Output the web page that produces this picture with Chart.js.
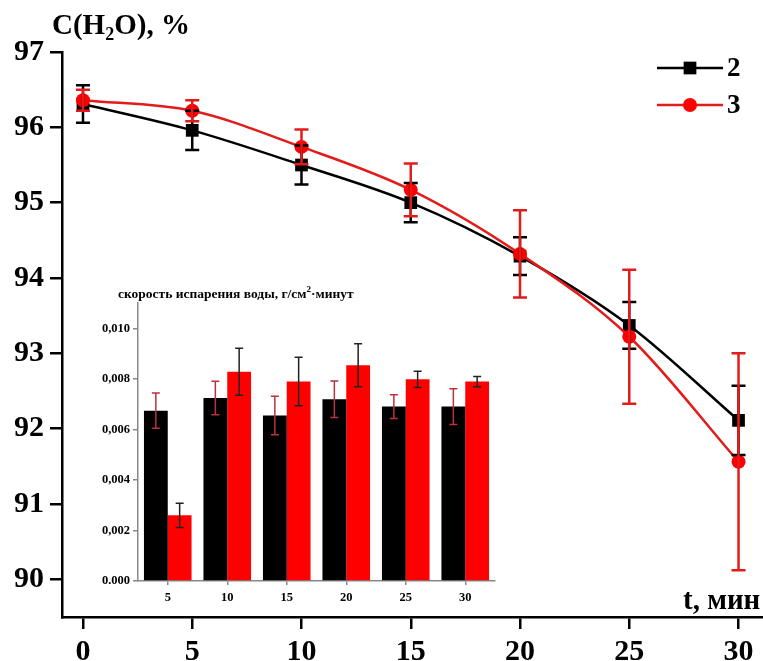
<!DOCTYPE html>
<html>
<head>
<meta charset="utf-8">
<script src="https://cdn.jsdelivr.net/npm/chart.js@4.4.1/dist/chart.umd.min.js"></script>
<style>
  body { margin: 0; background: #fff; }
  #wrap { position: relative; width: 763px; height: 661px; overflow: hidden; }
  .lbl { position: absolute; font-family: "Liberation Serif", "Times New Roman", serif; font-weight: bold; color: #000; white-space: nowrap; line-height: 1; }
  #inset { position: absolute; left: 93px; top: 280px; width: 407px; height: 328px; background: #fff; }
</style>
</head>
<body>
<div id="wrap">
  <canvas id="main" width="763" height="661"></canvas>
  <div id="inset"><canvas id="rate" width="407" height="328"></canvas></div>
  <div class="lbl" style="left:52px;top:10px;font-size:29px;">C(H<sub style="font-size:18px;vertical-align:-6px;">2</sub>O), %</div>
  <div class="lbl" style="left:683px;top:585px;font-size:29px;">t, мин</div>
  <div class="lbl" style="left:118px;top:285px;font-size:13.5px;">скорость испарения воды, г/см<sup style="font-size:9px;">2</sup>·минут</div>
</div>
<script>
// основной график: концентрация воды от времени
const times = [0, 5, 10, 15, 20, 25, 30];
const conc2 = [96.31, 95.96, 95.50, 95.00, 94.29, 93.37, 92.11];
const err2 = [0.25, 0.26, 0.26, 0.26, 0.25, 0.31, 0.46];
const conc3 = [96.36, 96.22, 95.74, 95.17, 94.32, 93.22, 91.56];
const err3 = [0.14, 0.14, 0.23, 0.35, 0.58, 0.89, 1.44];
const xTicks = [0, 5, 10, 15, 20, 25, 30];
const yTicks = [90, 91, 92, 93, 94, 95, 96, 97];

// вставка: скорость испарения
const rateCats = ["5", "10", "15", "20", "25", "30"];
const rate2 = [0.00674, 0.00724, 0.00655, 0.00719, 0.00690, 0.00690];
const rateErr2 = [0.00070, 0.00066, 0.00076, 0.00072, 0.00047, 0.00071];
const rate3 = [0.00260, 0.00828, 0.00789, 0.00854, 0.00798, 0.00789];
const rateErr3 = [0.00048, 0.00093, 0.00096, 0.00085, 0.00032, 0.00020];
const rateTicks = [0, 0.002, 0.004, 0.006, 0.008, 0.010];
const rateTickLabels = ["0.000", "0,002", "0,004", "0,006", "0,008", "0,010"];

const SERIF = '"Liberation Serif", "Times New Roman", serif';

// планки погрешностей
const errorBars = {
  id: "errorBars",
  afterDatasetsDraw(chart) {
    const ctx = chart.ctx;
    const ys = chart.scales.y;
    chart.data.datasets.forEach((ds, i) => {
      if (!ds.errors) return;
      const meta = chart.getDatasetMeta(i);
      meta.data.forEach((el, j) => {
        const raw = ds.data[j];
        const v = typeof raw === "object" ? raw.y : raw;
        const top = ys.getPixelForValue(v + ds.errors[j]);
        const bot = ys.getPixelForValue(v - ds.errors[j]);
        const x = el.x;
        const w = ds.capWidth;
        ctx.save();
        ctx.strokeStyle = ds.errColor;
        ctx.lineWidth = ds.errWidth;
        ctx.beginPath();
        ctx.moveTo(x, top); ctx.lineTo(x, bot);
        ctx.moveTo(x - w, top); ctx.lineTo(x + w, top);
        ctx.moveTo(x - w, bot); ctx.lineTo(x + w, bot);
        ctx.stroke();
        ctx.restore();
      });
    });
  }
};

// легенда справа вверху
const cornerLegend = {
  id: "cornerLegend",
  afterDraw(chart) {
    const ctx = chart.ctx;
    const rows = [{ ds: chart.data.datasets[0], y: 68 }, { ds: chart.data.datasets[1], y: 105 }];
    rows.forEach(r => {
      ctx.save();
      ctx.strokeStyle = r.ds.borderColor;
      ctx.lineWidth = 2.5;
      ctx.beginPath();
      ctx.moveTo(657, r.y); ctx.lineTo(723, r.y);
      ctx.stroke();
      ctx.fillStyle = r.ds.pointBackgroundColor;
      ctx.beginPath();
      if (r.ds.pointStyle === "rect") {
        const s = Math.SQRT1_2 * r.ds.pointRadius;
        ctx.rect(690 - s, r.y - s, 2 * s, 2 * s);
      } else {
        ctx.arc(690, r.y, r.ds.pointRadius, 0, Math.PI * 2);
      }
      ctx.fill();
      ctx.fillStyle = "#000";
      ctx.font = "bold 27px " + SERIF;
      ctx.textBaseline = "middle";
      ctx.fillText(r.ds.label, 727, r.y + 1);
      ctx.restore();
    });
  }
};

new Chart(document.getElementById("main"), {
  type: "line",
  data: {
    datasets: [
      {
        label: "2",
        data: times.map((t, i) => ({ x: t, y: conc2[i] })),
        errors: err2,
        borderColor: "#000",
        borderWidth: 2.5,
        pointStyle: "rect",
        pointRadius: 9,
        pointBackgroundColor: "#000",
        pointBorderWidth: 0,
        cubicInterpolationMode: "monotone",
        errColor: "#000", errWidth: 2.5, capWidth: 7,
        order: 1
      },
      {
        label: "3",
        data: times.map((t, i) => ({ x: t, y: conc3[i] })),
        errors: err3,
        borderColor: "#e21b1b",
        borderWidth: 2.5,
        pointStyle: "circle",
        pointRadius: 7,
        pointBackgroundColor: "#ff0000",
        pointBorderWidth: 0,
        cubicInterpolationMode: "monotone",
        errColor: "#e21b1b", errWidth: 2.5, capWidth: 7,
        order: 0
      }
    ]
  },
  options: {
    responsive: false,
    devicePixelRatio: 1,
    animation: false,
    layout: { autoPadding: false, padding: { top: 52, right: 0, left: 0, bottom: 0 } },
    plugins: { legend: { display: false }, tooltip: { enabled: false } },
    scales: {
      x: {
        type: "linear",
        min: -0.96, max: 31.12,
        afterBuildTicks: s => { s.ticks = xTicks.map(v => ({ value: v })); },
        afterFit: s => { s.height = 44; s.paddingLeft = 0; s.paddingRight = 0; },
        border: { display: true, color: "#000", width: 2.5 },
        grid: { drawOnChartArea: false, drawTicks: true, tickLength: 12, color: "#000", lineWidth: 2.5 },
        ticks: { color: "#000", padding: 5, font: { family: SERIF, size: 30, weight: "bold" } }
      },
      y: {
        min: 89.5, max: 97,
        afterBuildTicks: s => { s.ticks = yTicks.map(v => ({ value: v })); },
        afterFit: s => { s.width = 62; s.paddingTop = 0; s.paddingBottom = 0; },
        border: { display: true, color: "#000", width: 2.5 },
        grid: { drawOnChartArea: false, drawTicks: true, tickLength: 12, color: "#000", lineWidth: 2.5 },
        ticks: { color: "#000", padding: 6, font: { family: SERIF, size: 30, weight: "bold" } }
      }
    }
  },
  plugins: [errorBars, cornerLegend]
});

new Chart(document.getElementById("rate"), {
  type: "bar",
  data: {
    labels: rateCats,
    datasets: [
      {
        label: "2", data: rate2, errors: rateErr2,
        backgroundColor: "#000",
        errColor: "#b8323f", errWidth: 1.5, capWidth: 4
      },
      {
        label: "3", data: rate3, errors: rateErr3,
        backgroundColor: "#ff0000",
        errColor: "#222", errWidth: 1.5, capWidth: 4
      }
    ]
  },
  options: {
    responsive: false,
    devicePixelRatio: 1,
    animation: false,
    layout: { padding: { top: 23, right: 5, left: 0, bottom: 0 } },
    datasets: { bar: { barPercentage: 1.0, categoryPercentage: 0.8 } },
    plugins: { legend: { display: false }, tooltip: { enabled: false } },
    scales: {
      x: {
        afterFit: s => { s.height = 27; s.paddingLeft = 0; s.paddingRight = 0; },
        border: { display: true, color: "#888", width: 1.5 },
        grid: { offset: false, drawOnChartArea: false, drawTicks: true, tickLength: 4, color: "#888", lineWidth: 1.5 },
        ticks: { color: "#000", padding: 5, font: { family: SERIF, size: 12.5, weight: "bold" } }
      },
      y: {
        min: 0, max: 0.011,
        afterBuildTicks: s => { s.ticks = rateTicks.map(v => ({ value: v })); },
        afterFit: s => { s.width = 45; },
        border: { display: true, color: "#888", width: 1.5 },
        grid: { drawOnChartArea: false, drawTicks: true, tickLength: 5, color: "#888", lineWidth: 1.5 },
        ticks: {
          color: "#000", padding: 3,
          font: { family: SERIF, size: 12.5, weight: "bold" },
          callback: (v, i) => rateTickLabels[i]
        }
      }
    }
  },
  plugins: [errorBars]
});
</script>
</body>
</html>
